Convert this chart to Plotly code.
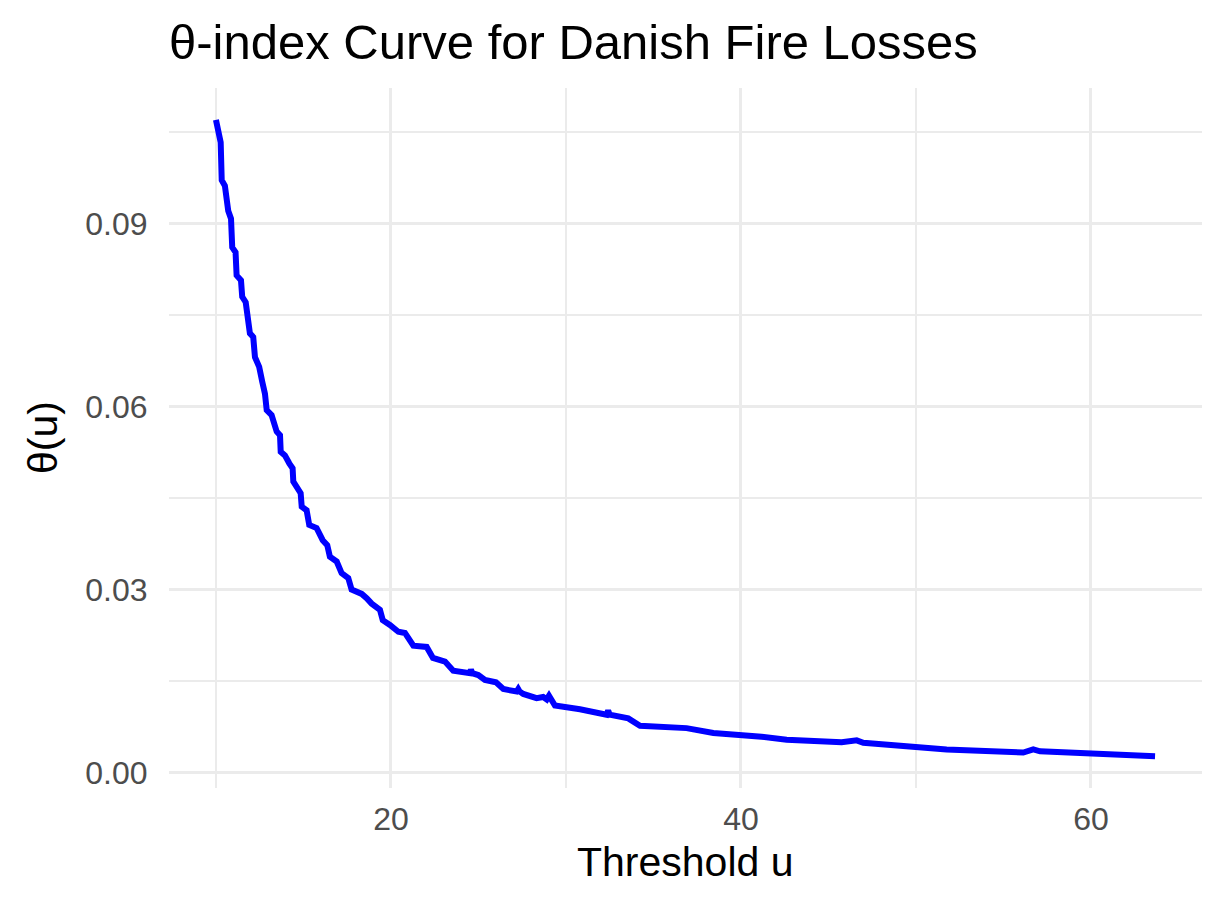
import plotly.graph_objects as go

# Threshold u values
threshold_u = [
    10.00, 10.27, 10.33, 10.51, 10.70, 10.86, 10.93, 11.12, 11.18, 11.43,
    11.50, 11.70, 11.94, 12.13, 12.23, 12.47, 12.65, 12.80, 12.90, 13.18,
    13.47, 13.66, 13.70, 13.94, 14.19, 14.38, 14.42, 14.70, 14.84, 14.90,
    15.18, 15.33, 15.75, 16.10, 16.36, 16.51, 16.90, 17.18, 17.56, 17.75,
    18.33, 18.61, 18.90, 19.37, 19.53, 19.94, 20.42, 20.80, 21.28, 22.04,
    22.40, 23.09, 23.56, 24.51, 24.57, 24.65, 24.99, 25.37, 26.00, 26.42,
    27.18, 27.27, 27.35, 27.56, 28.32, 28.70, 28.90, 29.03, 29.37, 30.80,
    32.32, 32.41, 32.50, 33.56, 34.23, 36.89, 37.09, 38.42, 41.18, 42.61,
    45.75, 46.61, 46.99, 47.94, 49.85, 51.75, 56.13, 56.70, 57.09, 59.37,
    63.66,
]

# theta-index values
theta_u = [
    0.1070, 0.1033, 0.0971, 0.0962, 0.0921, 0.0908, 0.0861, 0.0853, 0.0815, 0.0807,
    0.0780, 0.0771, 0.0720, 0.0714, 0.0681, 0.0665, 0.0640, 0.0621, 0.0594, 0.0586,
    0.0559, 0.0553, 0.0526, 0.0520, 0.0507, 0.0499, 0.0477, 0.0466, 0.0458, 0.0436,
    0.0430, 0.0406, 0.0401, 0.0381, 0.0373, 0.0354, 0.0346, 0.0327, 0.0319, 0.0300,
    0.0293, 0.0286, 0.0277, 0.0267, 0.0250, 0.0242, 0.0231, 0.0229, 0.0208, 0.0206,
    0.0188, 0.0182, 0.0167, 0.0163, 0.0169, 0.0163, 0.0160, 0.0152, 0.0148, 0.0137,
    0.0133, 0.0137, 0.0133, 0.0129, 0.0122, 0.0124, 0.0120, 0.0126, 0.0110, 0.0104,
    0.0095, 0.0102, 0.0095, 0.0089, 0.0077, 0.0073, 0.0072, 0.0065, 0.0059, 0.0054,
    0.0050, 0.0053, 0.0049, 0.0047, 0.0042, 0.0038, 0.0033, 0.0038, 0.0035, 0.0032,
    0.0027,
]

x_ticks = [20, 40, 60]
y_ticks = [0.00, 0.03, 0.06, 0.09]

FONT = "Liberation Sans, Arial, sans-serif"
GRID = "#EBEBEB"

W, H = 1207, 890  # page body has an 8px margin

xmin, xmax = min(threshold_u), max(threshold_u)
ymin, ymax = min(theta_u), max(theta_u)
xpad = (xmax - xmin) * 0.05
ypad = (ymax - ymin) * 0.05

fig = go.Figure()
fig.add_trace(go.Scatter(
    x=threshold_u, y=theta_u, mode="lines",
    line=dict(color="#0000FF", width=6),
    showlegend=False,
))

fig.update_layout(
    width=W, height=H,
    margin=dict(l=161, r=13, t=80, b=110),
    paper_bgcolor="white", plot_bgcolor="white",
    font=dict(family=FONT, color="#4D4D4D"),
    title=dict(
        text="θ-index Curve for Danish Fire Losses",
        font=dict(family=FONT, size=49, color="black"),
        x=(169 - 8) / W, xanchor="left", xref="container",
        y=1 - (42 - 8) / H, yanchor="middle", yref="container",
    ),
    xaxis=dict(
        range=[xmin - xpad, xmax + xpad],
        tickvals=x_ticks, ticktext=[str(v) for v in x_ticks],
        showgrid=True, gridcolor=GRID, gridwidth=3,
        zeroline=False, showline=False,
        ticks="outside", ticklen=3, tickcolor="rgba(0,0,0,0)",
        tickfont=dict(family=FONT, size=32, color="#4D4D4D"),
        minor=dict(tick0=0, dtick=10, showgrid=True, gridcolor=GRID, gridwidth=1.8),
    ),
    yaxis=dict(
        range=[ymin - ypad, ymax + ypad],
        tickvals=y_ticks, ticktext=[f"{v:.2f}" for v in y_ticks],
        showgrid=True, gridcolor=GRID, gridwidth=3,
        zeroline=False, showline=False,
        ticks="outside", ticklen=14, tickcolor="rgba(0,0,0,0)",
        tickfont=dict(family=FONT, size=32, color="#4D4D4D"),
        minor=dict(tick0=0, dtick=0.015, showgrid=True, gridcolor=GRID, gridwidth=1.8),
    ),
    annotations=[
        dict(text="Threshold u", xref="paper", yref="paper",
             x=0.5, y=-(862 - 788) / 700, xanchor="center", yanchor="middle",
             showarrow=False, font=dict(family=FONT, size=41, color="black")),
        dict(text="θ(u)", xref="paper", yref="paper",
             x=(43 - 169) / 1033, y=0.5, xanchor="center", yanchor="middle",
             textangle=-90, showarrow=False,
             font=dict(family=FONT, size=41, color="black")),
    ],
)

fig.write_html("out.html")
